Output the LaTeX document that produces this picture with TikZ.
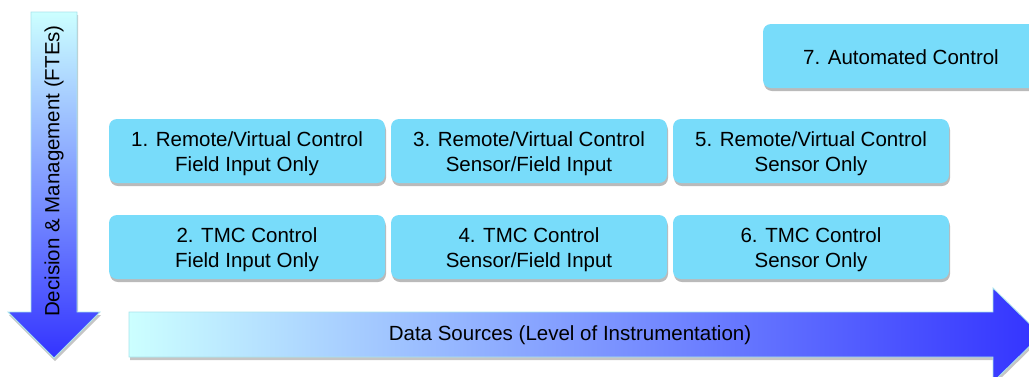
\documentclass[tikz,border=0pt]{standalone}
\usepackage{fontspec}
\setmainfont{Liberation Sans}
\usetikzlibrary{shadows}
\definecolor{boxfill}{HTML}{78DCFA}
\definecolor{lightc}{HTML}{CCFFFF}
\definecolor{deepb}{HTML}{3333FF}
\definecolor{edgec}{HTML}{A8E4EC}
\tikzset{
  stage/.style={rounded corners=8pt, fill=boxfill, minimum width=276pt, minimum height=64pt,
    inner sep=0pt,
    drop shadow={shadow xshift=1pt, shadow yshift=-3pt, fill=black!45, opacity=0.6}},
  stagetext/.style={align=center, font=\fontsize{20.5}{25}\selectfont, inner sep=0pt, yshift=-2.5pt},
  bigarrow/.style={draw=edgec, line width=0.8pt,
    drop shadow={shadow xshift=1pt, shadow yshift=-3pt, fill=black!45, opacity=0.5}},
  lbl/.style={font=\fontsize{20.5}{24}\selectfont, inner sep=0pt}
}
\begin{document}
\begin{tikzpicture}[x=1pt,y=-1pt]
\useasboundingbox (0,0) rectangle (1029,376);
\clip (0,0) rectangle (1029,376);
% vertical arrow
\path[bigarrow, top color=lightc, bottom color=deepb]
  (31,12) -- (77,12) -- (77,312) -- (100,312) -- (54,358) -- (8,312) -- (31,312) -- cycle;
\node[lbl, rotate=90] (dm) at (54,171) {Decision \& Management (FTEs)};
% horizontal arrow
\path[bigarrow, left color=lightc, right color=deepb]
  (129,312) -- (993,312) -- (993,288) -- (1041,335) -- (993,382) -- (993,357) -- (129,357) -- cycle;
\node[lbl] (ds) at (570,335) {Data Sources (Level of Instrumentation)};
% boxes
\node[stage] (b1) at (247,151) {};
\node[stage] (b3) at (529,151) {};
\node[stage] (b5) at (811,151) {};
\node[stage] (b2) at (247,247) {};
\node[stage] (b4) at (529,247) {};
\node[stage] (b6) at (811,247) {};
\node[stage] (b7) at (901,56) {};
\node[stagetext] (t1) at (b1) {1. Remote/Virtual Control\\Field Input Only};
\node[stagetext] (t3) at (b3) {3. Remote/Virtual Control\\Sensor/Field Input};
\node[stagetext] (t5) at (b5) {5. Remote/Virtual Control\\Sensor Only};
\node[stagetext] (t2) at (b2) {2. TMC Control\\Field Input Only};
\node[stagetext] (t4) at (b4) {4. TMC Control\\Sensor/Field Input};
\node[stagetext] (t6) at (b6) {6. TMC Control\\Sensor Only};
\node[stagetext, yshift=1pt] (t7) at (b7) {7. Automated Control};
\end{tikzpicture}
\end{document}
